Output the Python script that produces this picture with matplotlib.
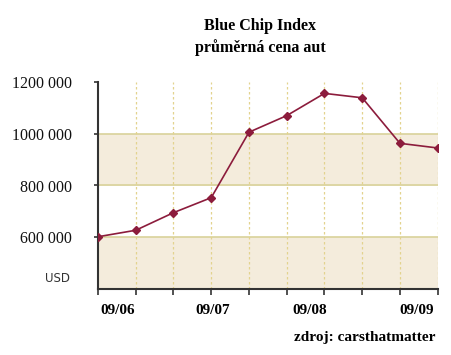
import matplotlib
matplotlib.use("Agg")
import matplotlib.pyplot as plt
from matplotlib.ticker import FixedLocator
from matplotlib.transforms import offset_copy

# Data
x_index = list(range(10))
values = [602000, 627000, 695000, 753000, 1006000, 1070000, 1156000, 1139000, 963000, 945000]
x_label_pos = [0.52, 3.05, 5.6, 8.45]
x_labels = ["09/06", "09/07", "09/08", "09/09"]
y_ticks = [600000, 800000, 1000000, 1200000]
y_labels = ["600 000", "800 000", "1000 000", "1200 000"]
unit_label = "USD"
bands = [(400000, 600000), (800000, 1000000)]

fig = plt.figure(figsize=(4.51, 3.55), dpi=100)
ax = fig.add_axes([98/451, 1-289/355, (437.7-98)/451, (289-82)/355])

serif = "Liberation Serif"
band_fill = "#f4ecdc"
band_line = "#d9d29a"
line_col = "#8c1c3c"

for lo, hi in bands:
    ax.axhspan(lo, hi, facecolor=band_fill, edgecolor="none", zorder=0)
for yv in [600000, 800000, 1000000]:
    ax.axhline(yv, color=band_line, lw=1.2, zorder=1)
for xv in x_index[1:]:
    ax.axvline(xv, color="#e3d38e", lw=0.9, ls=(0, (2, 2)), zorder=1)

ax.plot(x_index, values, color=line_col, lw=1.2, marker="D", ms=4,
        markerfacecolor=line_col, markeredgecolor=line_col, zorder=3)

ax.set_xlim(0, 9)
ax.set_ylim(400000, 1200000)

ax.xaxis.set_major_locator(FixedLocator(x_index))
ax.xaxis.set_minor_locator(FixedLocator(x_label_pos))
ax.set_xticklabels([""] * len(x_index))
ax.set_xticklabels(x_labels, minor=True)
ax.tick_params(axis="x", which="major", length=4, width=1.2, color="#333333", direction="out")
ax.tick_params(axis="x", which="minor", length=0, pad=11)
for lbl in ax.get_xticklabels(minor=True):
    lbl.set_fontfamily(serif)
    lbl.set_fontweight("bold")
    lbl.set_fontsize(11)

ax.set_yticks(y_ticks)
ax.set_yticklabels(y_labels)
ax.tick_params(axis="y", length=3, width=1.2, color="#333333", direction="out", pad=16)
for lbl in ax.get_yticklabels():
    lbl.set_fontfamily(serif)
    lbl.set_fontsize(11.5)
    lbl.set_color("#111111")

ax.text(0, 400000, unit_label, ha="right", va="center",
        transform=offset_copy(ax.transData, fig=fig, x=-28, y=10, units="dots"),
        fontfamily="DejaVu Sans", fontsize=8.5, color="#333333")

for s in ["top", "right"]:
    ax.spines[s].set_visible(False)
for s in ["left", "bottom"]:
    ax.spines[s].set_color("#333333")
    ax.spines[s].set_linewidth(1.5)

fig.text(260/451, 1-26/355, "Blue Chip Index", ha="center", va="center",
         fontfamily=serif, fontweight="bold", fontsize=11.5)
fig.text(260/451, 1-48/355, "průměrná cena aut", ha="center", va="center",
         fontfamily=serif, fontweight="bold", fontsize=11.5)
fig.text(436/451, 1-337/355, "zdroj: carsthatmatter", ha="right", va="center",
         fontfamily=serif, fontweight="bold", fontsize=11)

fig.savefig("out.png", dpi=100, facecolor="white")
